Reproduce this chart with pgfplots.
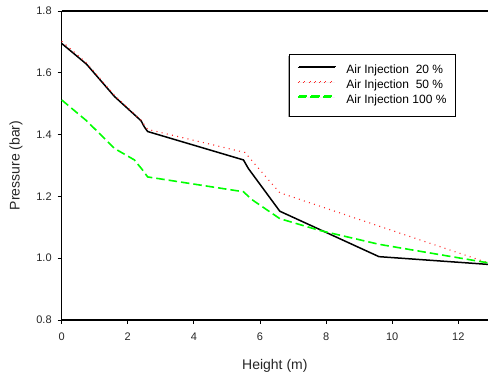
\documentclass[border=0pt]{standalone}
\usepackage{pgfplots}
\pgfplotsset{compat=1.18}
\usetikzlibrary{shadows}
\usepackage{fontspec}
\setmainfont{Liberation Sans}
\begin{document}
\begin{tikzpicture}
\path[use as bounding box] (0pt,0pt) rectangle (488pt,374pt);
\begin{axis}[
  at={(61.7pt,54pt)}, anchor=south west,
  scale only axis, width=426.3pt, height=309pt,
  xmin=0, xmax=12.9, ymin=0.8, ymax=1.8,
  xtick={0,2,...,12}, ytick={0.8,1.0,...,1.8},
  axis x line*=bottom, axis y line*=left,
  axis line style={line width=1.2pt, -},
  tick style={black, line width=0.8pt},
  tick align=outside, major tick length=4pt,
  /pgf/number format/assume math mode=true,
  ticklabel style={font=\fontsize{11}{13}\selectfont, text=black!85},
  xticklabel style={yshift=-5pt},
  yticklabel style={xshift=-2.5pt, /pgf/number format/fixed, /pgf/number format/fixed zerofill, /pgf/number format/precision=1},
  xlabel={Height (m)}, ylabel={Pressure (bar)},
  label style={font=\fontsize{14}{16}\selectfont, text=black!85},
  xlabel style={at={(axis description cs:0.5,0)}, anchor=center, yshift=-46pt},
  ylabel style={at={(axis description cs:0,0.5)}, anchor=center, yshift=45.7pt},
  legend style={at={(0.5332,0.86)}, anchor=north west, draw=black, line width=0.8pt,
    drop shadow={shadow xshift=-1pt, shadow yshift=-1pt, fill=gray!70, opacity=1},
    fill=white,
    font=\fontsize{12}{14}\selectfont, inner xsep=8.7pt, inner ysep=10pt,
    nodes={inner sep=0pt, text height=8.6pt, text depth=3pt},
    row sep=3.4pt,
    /tikz/every odd column/.append style={column sep=9.7pt},
    cells={anchor=west}},
  legend cell align=left,
  legend image code/.code={\draw[#1] (0pt,4.2pt) -- (37pt,4.2pt);},
  clip=false,
]
\draw[line width=1.2pt] (rel axis cs:0,1) -- (rel axis cs:1,1);
\addplot[black, line width=1.5pt] coordinates {
(0,1.695) (0.75,1.628) (1.6,1.523) (2.4,1.445) (2.5,1.425) (2.6,1.41) (5.5,1.318) (5.65,1.29) (6.6,1.152) (9.6,1.005) (12.9,0.98)};
\addlegendentry{Air Injection\ \ 20 \%}
\addplot[red!85, line width=1.1pt, dash pattern=on 1pt off 4.3pt] coordinates {
(0,1.702) (0.75,1.632) (1.6,1.527) (2.4,1.447) (2.6,1.417) (5.55,1.342) (5.8,1.31) (6.6,1.212) (12.9,0.985)};
\addlegendentry{Air Injection\ \ 50 \%}
\addplot[green, line width=1.6pt, dash pattern=on 8.5pt off 4pt] coordinates {
(0,1.512) (0.75,1.445) (1.6,1.355) (2.2,1.318) (2.45,1.285) (2.6,1.263) (5.5,1.215) (5.75,1.19) (6.6,1.128) (7.8,1.09) (9.6,1.045) (12.9,0.985)};
\addlegendentry{Air Injection 100 \%}
\end{axis}
\end{tikzpicture}
\end{document}
